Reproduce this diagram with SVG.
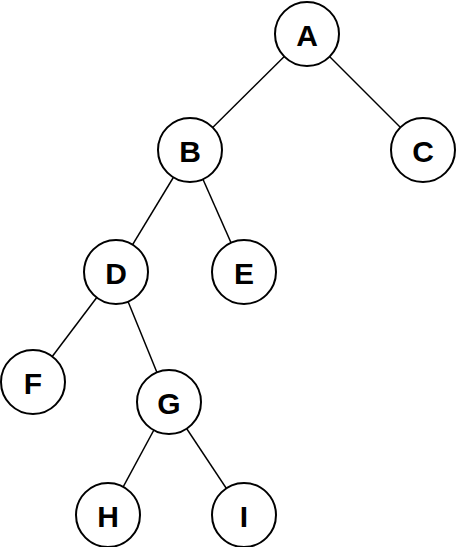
<svg xmlns="http://www.w3.org/2000/svg" width="456" height="547" viewBox="0 0 456 547">
<style>
.n circle{fill:#fff;stroke:#000;stroke-width:2}
.n text{font-family:"Liberation Sans",Arial,sans-serif;font-weight:bold;font-size:30px;text-anchor:middle;dominant-baseline:central;fill:#000}
#edges line{stroke:#000;stroke-width:1.5}
</style>
<rect width="456" height="547" fill="#fff"/>
<g id="edges">
<line x1="307" y1="34" x2="190" y2="150"/>
<line x1="307" y1="34" x2="423" y2="150"/>
<line x1="190" y1="150" x2="116" y2="272"/>
<line x1="190" y1="150" x2="244" y2="272"/>
<line x1="116" y1="272" x2="33" y2="382"/>
<line x1="116" y1="272" x2="169" y2="402"/>
<line x1="169" y1="402" x2="108" y2="515"/>
<line x1="169" y1="402" x2="244" y2="515"/>
</g>
<g id="A" class="n"><circle cx="307" cy="34" r="32"/><text x="307" y="35">A</text></g>
<g id="B" class="n"><circle cx="190" cy="150" r="32"/><text x="190" y="151">B</text></g>
<g id="C" class="n"><circle cx="423" cy="150" r="32"/><text x="423" y="151">C</text></g>
<g id="D" class="n"><circle cx="116" cy="272" r="32"/><text x="116" y="273">D</text></g>
<g id="E" class="n"><circle cx="244" cy="272" r="32"/><text x="244" y="273">E</text></g>
<g id="F" class="n"><circle cx="33" cy="382" r="32"/><text x="33" y="383">F</text></g>
<g id="G" class="n"><circle cx="169" cy="402" r="32"/><text x="169" y="403">G</text></g>
<g id="H" class="n"><circle cx="108" cy="515" r="32"/><text x="108" y="516">H</text></g>
<g id="I" class="n"><circle cx="244" cy="515" r="32"/><text x="244" y="516">I</text></g>
</svg>
